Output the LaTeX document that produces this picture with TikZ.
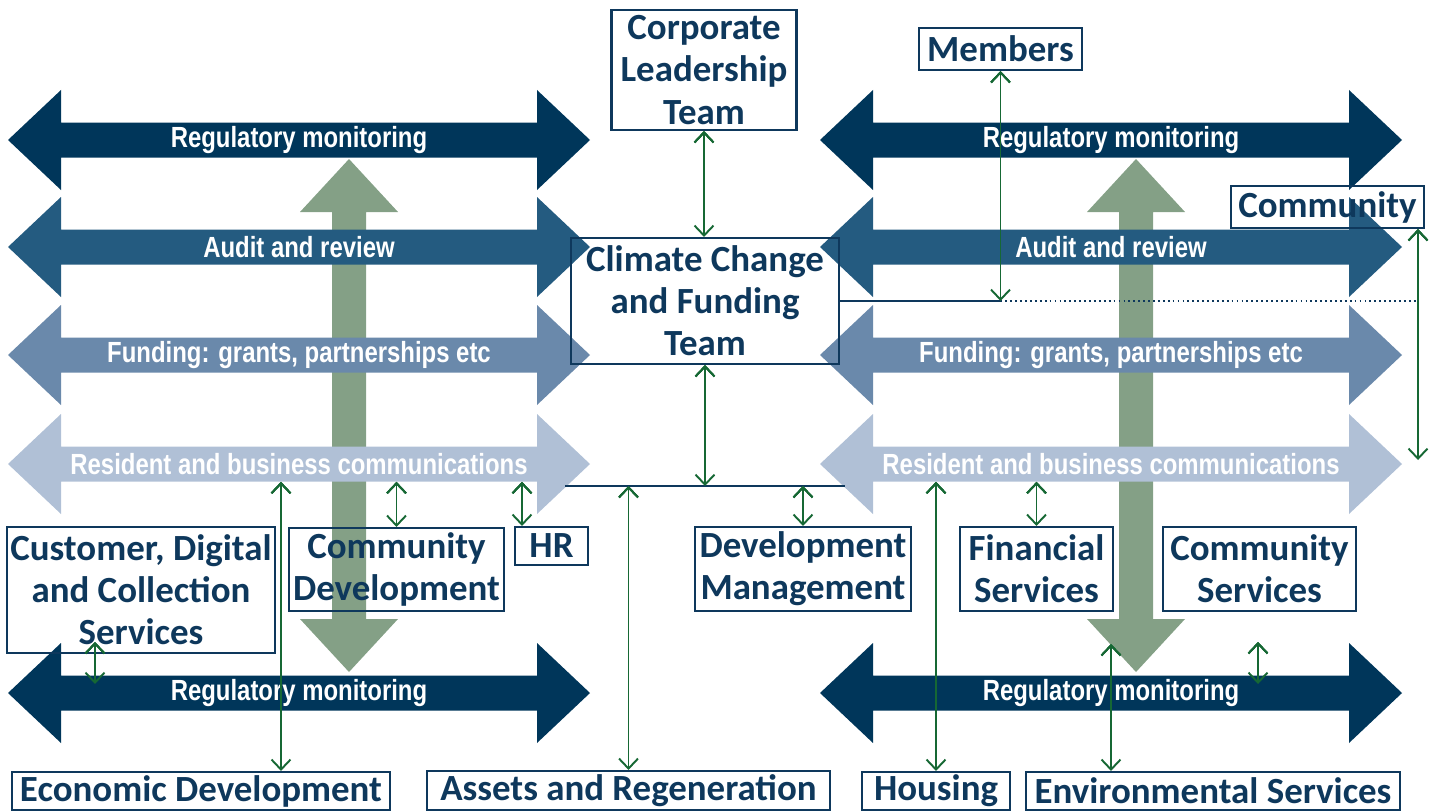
\documentclass[tikz,border=0pt]{standalone}
\usepackage{fontspec}
\newfontfamily\boxfont{Carlito}
\newfontfamily\bandfont{Liberation Sans}[FakeStretch=0.82]
\usetikzlibrary{arrows.meta}
\definecolor{regcol}{RGB}{0,54,90}
\definecolor{audcol}{RGB}{36,91,128}
\definecolor{fundcol}{RGB}{106,137,171}
\definecolor{rescol}{RGB}{176,192,214}
\definecolor{sage}{RGB}{132,160,134}
\definecolor{navy}{RGB}{14,56,92}
\definecolor{linkgreen}{RGB}{22,104,52}

\tikzset{
  band/.pic={\path[pic actions] (0,0) -- (53,-50) -- (53,-17.5) -- (529,-17.5) -- (529,-50) -- (582,0)
    -- (529,50) -- (529,17.5) -- (53,17.5) -- (53,50) -- cycle;},
  updown/.pic={\path[pic actions] (0,0) -- (49,53) -- (17,53) -- (17,460) -- (49,460) -- (0,513)
    -- (-49,460) -- (-17,460) -- (-17,53) -- (-49,53) -- cycle;}
}

\begin{document}
\begin{tikzpicture}[x=0.02cm, y=-0.02cm,
    bandtext/.style={text=white, font=\bandfont\bfseries\fontsize{16.6}{18}\selectfont,
      minimum width=9.52cm, minimum height=0.7cm, inner sep=0pt},
    unit/.style={draw=navy, line width=1.2pt, text=navy, align=center, inner sep=0pt,
      font=\boxfont\bfseries\fontsize{21}{24}\selectfont},
    link/.style={draw=linkgreen, line width=1.1pt, <->, >={Straight Barb[length=2mm,width=3.8mm]}},
    wire/.style={draw=navy, line width=1.2pt}]
  \useasboundingbox (0,0) rectangle (1435,811);

  % green up/down arrows behind the bands
  \pic[fill=sage] at (349,159) {updown};
  \pic[fill=sage] at (1136,159) {updown};

  % bands
  \pic[fill=regcol] at (8,140) {band};
  \pic[fill=audcol] at (8,247) {band};
  \pic[fill=fundcol] at (8,355) {band};
  \pic[fill=rescol] at (8,464) {band};
  \pic[fill=regcol] at (8,693) {band};
  \pic[fill=regcol] at (820,140) {band};
  \pic[fill=audcol] at (820,247) {band};
  \pic[fill=fundcol] at (820,355) {band};
  \pic[fill=rescol] at (820,464) {band};
  \pic[fill=regcol] at (820,693) {band};
  \node[bandtext] (regL) at (299,140) {Regulatory monitoring};
  \node[bandtext] (audL) at (299,247) {Audit and review};
  \node[bandtext] (fundL) at (299,355) {Funding: grants, partnerships etc};
  \node[bandtext] (resL) at (299,464) {Resident and business communications};
  \node[bandtext] (regBL) at (299,693) {Regulatory monitoring};
  \node[bandtext] (regR) at (1111,140) {Regulatory monitoring};
  \node[bandtext] (audR) at (1111,247) {Audit and review};
  \node[bandtext] (fundR) at (1111,355) {Funding: grants, partnerships etc};
  \node[bandtext] (resR) at (1111,464) {Resident and business communications};
  \node[bandtext] (regBR) at (1111,693) {Regulatory monitoring};

  % boxes
  \node[unit, minimum width=3.7cm, minimum height=2.4cm] (clt) at (704,70) {Corporate\\Leadership\\Team};
  \node[unit, minimum width=3.26cm, minimum height=0.84cm] (members) at (1000.5,49) {Members};
  \node[unit, minimum width=3.86cm, minimum height=0.84cm] (community) at (1327.5,207) {Community};
  \node[unit, minimum width=5.36cm, minimum height=2.52cm] (ccft) at (705,301) {Climate Change\\and Funding\\Team};
  \node[unit, minimum width=5.36cm, minimum height=2.52cm] (cdcs) at (141,590) {Customer, Digital\\and Collection\\Services};
  \node[unit, minimum width=4.3cm, minimum height=1.66cm] (comdev) at (396.5,569.5) {Community\\Development};
  \node[unit, minimum width=1.46cm, minimum height=0.76cm] (hr) at (551.5,546) {HR};
  \node[unit, minimum width=4.32cm, minimum height=1.68cm] (devmgmt) at (803,569) {Development\\Management};
  \node[unit, minimum width=3.06cm, minimum height=1.68cm] (finserv) at (1036.5,569) {Financial\\Services};
  \node[unit, minimum width=3.86cm, minimum height=1.68cm] (comserv) at (1259.5,569) {Community\\Services};
  \node[unit, minimum width=7.56cm, minimum height=0.76cm] (ecodev) at (201,791) {Economic Development};
  \node[unit, minimum width=8.06cm, minimum height=0.78cm] (assets) at (628.5,790.5) {Assets and Regeneration};
  \node[unit, minimum width=2.96cm, minimum height=0.76cm] (housing) at (936,791) {Housing};
  \node[unit, minimum width=7.48cm, minimum height=0.76cm] (envserv) at (1213,791) {Environmental Services};

  % free ends
  \coordinate (membersfoot) at (1000.5,301);
  \coordinate (dotend) at (1418,301);
  \coordinate (commfoot) at (1418,460);
  \coordinate (busL) at (565,486);
  \coordinate (busR) at (845,486);
  \coordinate (cdcstip) at (95,642);
  \coordinate (regtip) at (95,684);
  \coordinate (envtip) at (1111,644);
  \coordinate (comservtip) at (1258,642);
  \coordinate (comservfoot) at (1258,684);

  \draw[wire] (busL) -- (busR);
  \draw[wire] (ccft.east) -- (membersfoot);
  \draw[wire, line width=1pt, dash pattern=on 1pt off 1.8pt] (membersfoot) -- (dotend);

  \path[link] (clt.south) edge (clt.south |- ccft.north);
  \path[link] (members.south) edge (membersfoot);
  \path[link] (community.south -| commfoot) edge (commfoot);
  \path[link] (ccft.south) edge (ccft.south |- busL);
  \path[link] (assets.north |- busL) edge (assets.north);
  \path[link] (devmgmt.north |- busL) edge (devmgmt.north);
  \path[link] (resL.south -| 281,0) edge (ecodev.north -| 281,0);
  \path[link] (resL.south -| comdev.north) edge (comdev.north);
  \path[link] (resL.south -| 522,0) edge (hr.north -| 522,0);
  \path[link] (cdcstip) edge (regtip);
  \path[link] (resR.south -| housing.north) edge (housing.north);
  \path[link] (resR.south -| finserv.north) edge (finserv.north);
  \path[link] (envtip) edge (envserv.north -| envtip);
  \path[link] (comservtip) edge (comservfoot);
\end{tikzpicture}
\end{document}
